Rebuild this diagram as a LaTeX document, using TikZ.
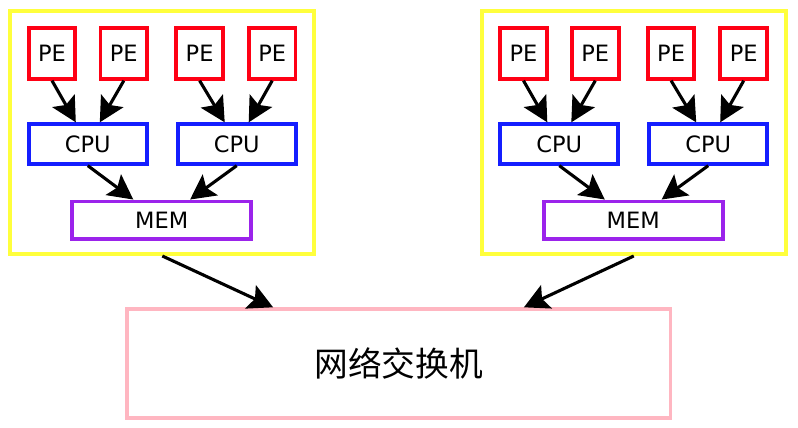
\documentclass[tikz,border=0pt]{standalone}
\usepackage{fontspec}
\setmainfont{DejaVu Sans}
\newfontfamily\cjk{Noto Sans CJK SC}
\usetikzlibrary{arrows.meta,positioning}
\definecolor{peRed}{RGB}{255,0,20}
\definecolor{cpuBlue}{RGB}{20,30,255}
\definecolor{memPurple}{RGB}{155,35,235}
\definecolor{grpYellow}{RGB}{255,255,60}
\definecolor{swPink}{RGB}{255,182,193}

\begin{document}
\begin{tikzpicture}[
  pebox/.style={rectangle, draw=peRed, line width=2.8pt, inner sep=0pt,
              minimum width=1.165cm, minimum height=1.275cm, font=\fontsize{16}{19}\selectfont},
  cpubox/.style={rectangle, draw=cpuBlue, line width=2.8pt, inner sep=0pt,
              minimum width=2.95cm, minimum height=0.985cm, font=\fontsize{16}{19}\selectfont},
  membox/.style={rectangle, draw=memPurple, line width=2.8pt, inner sep=0pt,
              minimum width=4.475cm, minimum height=0.94cm, font=\fontsize{16}{19}\selectfont},
  grpbox/.style={rectangle, draw=grpYellow, line width=2.8pt, inner sep=0pt,
              minimum width=7.6cm, minimum height=6.075cm},
  swbox/.style={rectangle, draw=swPink, line width=2.4pt, inner sep=0pt,
              minimum width=13.59cm, minimum height=2.725cm, font=\cjk\fontsize{24}{29}\selectfont},
  arr/.style={-{Stealth[length=0.62cm, width=0.64cm, inset=0.12cm]}, line width=2.2pt, color=black}
]
\useasboundingbox (0,0) rectangle (19.95,-10.675);
% ── LEFT: node group ─────────────
\node[grpbox] (grp1) at (4.0575, -3.3125) {};
\node[pebox] (pe1) at (1.30, -1.33) {PE};
\node[pebox] (pe2) at (3.095, -1.33) {PE};
\node[pebox] (pe3) at (4.99, -1.33) {PE};
\node[pebox] (pe4) at (6.805, -1.33) {PE};
\node[cpubox] (cpu1) at (2.195, -3.6) {CPU};
\node[cpubox] (cpu2) at (5.9175, -3.6) {CPU};
\node[membox] (mem1) at (4.0425, -5.5075) {MEM};
\draw[arr] (pe1.south) -- ([xshift=-0.3cm]cpu1.north);
\draw[arr] (pe2.south) -- ([xshift=0.3cm]cpu1.north);
\draw[arr] (pe3.south) -- ([xshift=-0.3cm]cpu2.north);
\draw[arr] (pe4.south) -- ([xshift=0.3cm]cpu2.north);
\draw[arr] (cpu1.south) -- ([xshift=-0.71cm]mem1.north);
\draw[arr] (cpu2.south) -- ([xshift=0.71cm]mem1.north);

% ── RIGHT: node group ────────────
\node[grpbox] (grp2) at (15.845, -3.3125) {};
\node[pebox] (pe5) at (13.0875, -1.33) {PE};
\node[pebox] (pe6) at (14.8825, -1.33) {PE};
\node[pebox] (pe7) at (16.7775, -1.33) {PE};
\node[pebox] (pe8) at (18.5925, -1.33) {PE};
\node[cpubox] (cpu3) at (13.9825, -3.6) {CPU};
\node[cpubox] (cpu4) at (17.705, -3.6) {CPU};
\node[membox] (mem2) at (15.83, -5.5075) {MEM};
\draw[arr] (pe5.south) -- ([xshift=-0.3cm]cpu3.north);
\draw[arr] (pe6.south) -- ([xshift=0.3cm]cpu3.north);
\draw[arr] (pe7.south) -- ([xshift=-0.3cm]cpu4.north);
\draw[arr] (pe8.south) -- ([xshift=0.3cm]cpu4.north);
\draw[arr] (cpu3.south) -- ([xshift=-0.71cm]mem2.north);
\draw[arr] (cpu4.south) -- ([xshift=0.71cm]mem2.north);

% ── BOTTOM: switch ───────────────
\node[swbox] (sw) at (9.9675, -9.0875) {网络交换机};
\draw[arr] (grp1.south) -- ([xshift=-3.14cm]sw.north);
\draw[arr] (grp2.south) -- ([xshift=3.13cm]sw.north);
\end{tikzpicture}
\end{document}
